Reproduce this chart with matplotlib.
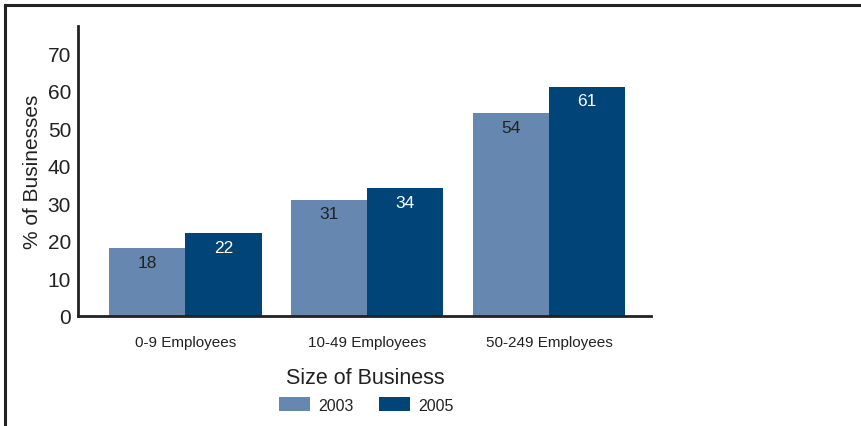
import matplotlib
matplotlib.use("Agg")
import matplotlib.pyplot as plt
from matplotlib.lines import Line2D
from matplotlib.patches import Patch
import numpy as np

categories = ["0-9 Employees", "10-49 Employees", "50-249 Employees"]
series_names = ["2003", "2005"]
values_2003 = [18, 31, 54]
values_2005 = [22, 34, 61]
y_ticks = [0, 10, 20, 30, 40, 50, 60, 70]

c2003 = "#6688B0"
c2005 = "#014578"
dark = "#222222"

plt.rcParams['font.family'] = ['Liberation Sans', 'DejaVu Sans']

W, H = 861, 427
fig = plt.figure(figsize=(W / 100, H / 100), dpi=100)

# axes placement in pixels
x0, x1 = 78, 651
y0, y1 = 317, 27
ax = fig.add_axes([x0 / W, 1 - y0 / H, (x1 - x0) / W, (y0 - y1) / H])

x = np.arange(len(categories))
bw = 0.419
b1 = ax.bar(x - bw / 2, values_2003, bw, color=c2003, linewidth=0)
b2 = ax.bar(x + bw / 2, values_2005, bw, color=c2005, linewidth=0)

ax.set_xlim(-0.59, 2.56)
ax.set_ylim(0, 77.2)
ax.set_yticks(y_ticks)
ax.set_yticklabels([str(t) for t in y_ticks], fontsize=15, color=dark)
ax.set_xticks(x)
ax.set_xticklabels(categories, fontsize=11, color=dark)
ax.tick_params(axis='both', length=0)
ax.tick_params(axis='y', pad=5)
ax.tick_params(axis='x', pad=14)

for s in ["top", "right"]:
    ax.spines[s].set_visible(False)
for s in ["left", "bottom"]:
    ax.spines[s].set_color(dark)
    ax.spines[s].set_linewidth(2)

ax.set_ylabel("% of Businesses", fontsize=15, color=dark, labelpad=4)

for rect, v in zip(b1, values_2003):
    ax.annotate(str(v), (rect.get_x() + rect.get_width() / 2, v),
                xytext=(0, -14), textcoords="offset pixels",
                ha="center", va="center", fontsize=12.5, color=dark)
for rect, v in zip(b2, values_2005):
    ax.annotate(str(v), (rect.get_x() + rect.get_width() / 2, v),
                xytext=(0, -14), textcoords="offset pixels",
                ha="center", va="center", fontsize=12.5, color="white")

fig.text(365 / W, 1 - 379 / H, "Size of Business", fontsize=15.5,
         color=dark, ha="center", va="center")

handles = [Patch(facecolor=c2003, edgecolor="none"),
           Patch(facecolor=c2005, edgecolor="none")]
fig.legend(handles, series_names, loc="center", bbox_to_anchor=(366 / W, 1 - 406 / H),
           ncol=2, frameon=False, fontsize=11.5, handlelength=1.95, handleheight=1.0,
           handletextpad=0.5, columnspacing=1.6, labelcolor=dark)

# figure frame (top and left)
fig.add_artist(Line2D([5 / W, 1], [1 - 6 / H, 1 - 6 / H], transform=fig.transFigure,
                      color=dark, linewidth=2.2))
fig.add_artist(Line2D([5 / W, 5 / W], [0, 1 - 6 / H], transform=fig.transFigure,
                      color=dark, linewidth=2.2))

fig.savefig("out.png", dpi=100, facecolor="white")
